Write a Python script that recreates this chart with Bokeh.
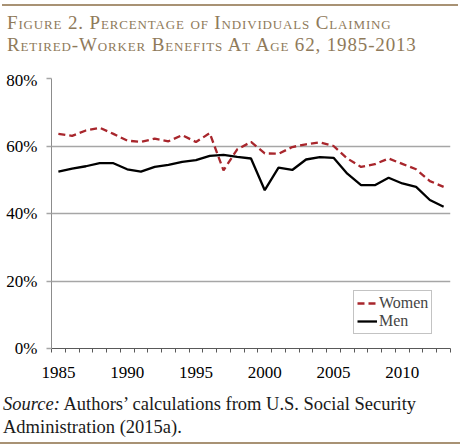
from bokeh.plotting import figure
from bokeh.models import Range1d, FixedTicker, Legend, LegendItem, Div
from bokeh.layouts import column
from bokeh.embed import file_html
from bokeh.resources import INLINE

# === Data === #
years = list(range(1985, 2014))
women = [63.6, 63.0, 64.6, 65.4, 63.6, 61.6, 61.2, 62.2, 61.4, 63.2,
         61.2, 63.8, 52.8, 59.0, 61.2, 57.8, 57.7, 59.7, 60.5, 61.1,
         60.0, 56.3, 53.8, 54.6, 56.3, 54.7, 53.1, 49.6, 47.9]
men = [52.4, 53.3, 54.0, 54.9, 54.9, 53.1, 52.4, 53.8, 54.4, 55.3,
       55.8, 57.1, 57.4, 56.8, 56.3, 46.9, 53.6, 52.9, 56.0, 56.7,
       56.5, 51.8, 48.4, 48.4, 50.6, 48.9, 47.9, 44.0, 42.0]
label_years = [1985, 1990, 1995, 2000, 2005, 2010]
y_ticks = [0, 20, 40, 60, 80]
y_labels = ["0%", "20%", "40%", "60%", "80%"]

title_lines = ["Figure 2. Percentage of Individuals Claiming",
               "Retired-Worker Benefits At Age 62, 1985-2013"]
source_lines = ["<i>Source:</i> Authors\u2019 calculations from U.S. Social Security",
                "Administration (2015a)."]

SERIF = "Liberation Serif"
TAN = "#8f7a5a"
RULE = "#a89274"
GRID = "#a6a6a6"

# === Title === #
title = Div(
    text=('<div style="margin:4px 0 0 2px; width:456px; padding:6px 0 0 5px; '
          'border-top:2px solid %s; font-family:\'%s\'; font-variant:small-caps; '
          'font-size:19px; letter-spacing:0.85px; line-height:22px; color:%s;">%s</div>'
          % (RULE, SERIF, TAN, "<br>".join(title_lines))),
    width=472, height=70, margin=0)

# === Chart === #
p = figure(frame_width=399, frame_height=270, x_range=Range1d(1984.5, 2013.5), y_range=Range1d(0, 80),
           output_backend="svg", toolbar_location=None, min_border_left=51, min_border_right=22,
           min_border_top=8, min_border_bottom=40, margin=0)
p.outline_line_color = None
p.xgrid.visible = False
p.ygrid.ticker = FixedTicker(ticks=y_ticks)
p.ygrid.grid_line_color = GRID
p.ygrid.grid_line_width = 1.5

p.xaxis.ticker = FixedTicker(ticks=label_years, minor_ticks=[y - 0.5 for y in years] + [years[-1] + 0.5])
p.xaxis.major_tick_out = 0
p.xaxis.major_tick_in = 0
p.xaxis.minor_tick_out = 4
p.xaxis.minor_tick_in = 0
p.xaxis.axis_line_color = "#595959"
p.xaxis.minor_tick_line_color = "#595959"
p.xaxis.major_label_standoff = 14

p.yaxis.ticker = FixedTicker(ticks=y_ticks, minor_ticks=[])
p.yaxis.major_label_overrides = dict(zip(y_ticks, y_labels))
p.yaxis.major_tick_out = 5
p.yaxis.major_tick_in = 0
p.yaxis.major_tick_line_color = GRID
p.yaxis.major_tick_line_width = 1.5
p.yaxis.axis_line_color = "#8c8c8c"
p.yaxis.major_label_standoff = 9

for ax in (p.xaxis, p.yaxis):
    ax.major_label_text_font = SERIF
    ax.major_label_text_font_size = "17px"
    ax.major_label_text_color = "black"

r_women = p.line(years, women, line_color="#a8262c", line_width=2.3, line_dash="7 4")
r_men = p.line(years, men, line_color="black", line_width=2.3)

legend = Legend(items=[LegendItem(label="Women", renderers=[r_women]),
                       LegendItem(label="Men", renderers=[r_men])],
                location=(302, 14), padding=3, spacing=0, margin=0,
                glyph_width=20, glyph_height=18, label_height=18, label_standoff=2,
                label_text_font=SERIF, label_text_font_size="16px",
                border_line_color="#888888", border_line_width=1, background_fill_alpha=1)
p.add_layout(legend)

# === Source note === #
source = Div(
    text=('<div style="width:460px; padding:5px 0 3px 3px; '
          'border-bottom:2px solid %s; font-family:\'%s\'; font-size:18.5px; line-height:23px; color:#1a1a1a;">%s</div>'
          % (RULE, SERIF, "<br>".join(source_lines))),
    width=472, height=60, margin=0)

layout = column(title, p, source, spacing=0)
open("out.html", "w").write(file_html(layout, INLINE))
